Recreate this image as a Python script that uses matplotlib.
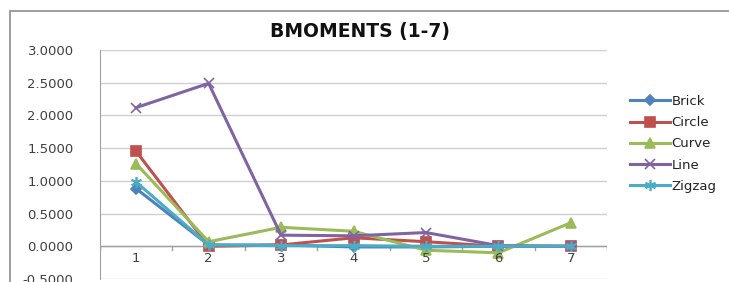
import numpy as np
import matplotlib.pyplot as plt
from matplotlib.patches import Rectangle

categories = [1, 2, 3, 4, 5, 6, 7]
brick = [0.88, 0.02, 0.02, -0.01, -0.01, 0.0, 0.0]
circle = [1.45, 0.0, 0.02, 0.13, 0.07, 0.0, 0.0]
curve = [1.26, 0.07, 0.29, 0.23, -0.06, -0.10, 0.36]
line = [2.12, 2.49, 0.17, 0.16, 0.21, 0.01, 0.0]
zigzag = [0.98, 0.02, 0.01, 0.01, 0.0, 0.0, 0.0]

series = [
    ("Brick", brick, "#4F81BD", "D", 5),
    ("Circle", circle, "#C0504D", "s", 7),
    ("Curve", curve, "#9BBB59", "^", 7),
    ("Line", line, "#8064A2", "x", 7),
    ("Zigzag", zigzag, "#4BACC6", (6, 2, 0), 8),
]

fig = plt.figure(figsize=(7.29, 2.82), dpi=100)
fig.patches.append(Rectangle((10 / 729, -0.1), 1.0, 1 - 11 / 282 + 0.1,
                             transform=fig.transFigure, fill=False,
                             edgecolor="#8C8C8C", linewidth=1.2))

ax = fig.add_axes([100 / 729, 3 / 282, 507 / 729, 229 / 282])
x = np.array(categories)
for name, vals, col, mk, ms in series:
    ax.plot(x, vals, color=col, linewidth=2.2, marker=mk, markersize=ms,
            markeredgecolor=col, markerfacecolor=col, markeredgewidth=1.2,
            label=name)

ax.set_xlim(0.5, 7.5)
ax.set_ylim(-0.5, 3.0)
yt = np.arange(-0.5, 3.01, 0.5)
ax.set_yticks(yt)
ax.set_yticklabels([f"{v:.4f}" for v in yt])
ax.grid(axis="y", color="#D0D0D0", linewidth=1)
ax.set_axisbelow(True)

for s in ["top", "right", "bottom"]:
    ax.spines[s].set_visible(False)
ax.spines["left"].set_color("#A0A0A0")
ax.axhline(0, color="#A0A0A0", linewidth=1, zorder=1)

# category labels sit just under the zero line, Excel style
ax.set_xticks([])
for c in categories:
    ax.text(c, -0.19, str(c), ha="center", va="center", fontsize=9.5,
            color="#404040")
for b in np.arange(0.5, 7.6, 1.0):
    ax.plot([b, b], [0, -0.06], color="#A0A0A0", linewidth=1, zorder=1)
ax.tick_params(axis="y", length=0, labelsize=9.5, labelcolor="#404040", pad=19)

fig.text(360 / 729, 1 - 32 / 282, "BMOMENTS (1-7)", ha="center", va="center",
         fontsize=13.5, fontweight="bold", color="#111111")

leg = fig.legend(loc="upper left", bbox_to_anchor=(630 / 729, 1 - 95 / 282),
                 frameon=False, fontsize=9.5, handlelength=3.0,
                 labelspacing=0.62, handletextpad=0.15, borderaxespad=0,
                 borderpad=0)
for t in leg.get_texts():
    t.set_color("#222222")

fig.savefig("out.png", dpi=100)
